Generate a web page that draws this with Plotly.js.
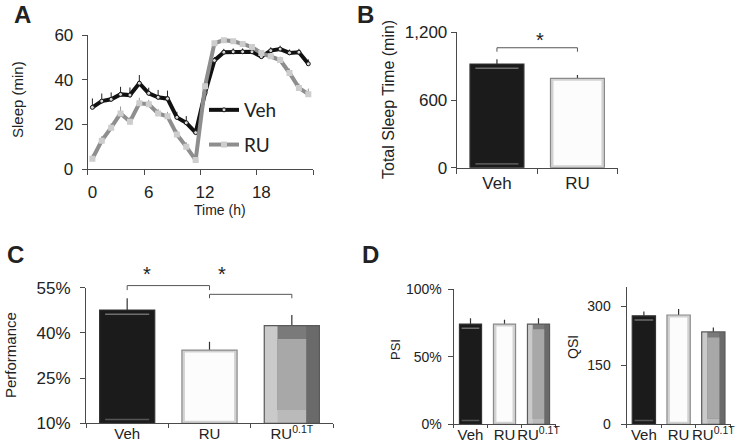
<!DOCTYPE html>
<html><head><meta charset="utf-8">
<script src="https://cdn.plot.ly/plotly-3.0.1.min.js"></script>
<style>html,body{margin:0;padding:0;background:#fff}#chart{width:747px;height:444px}</style>
</head><body><div id="chart"></div>
<script>
// ---------- Panel A: sleep per hour ----------
const hours = [0,1,2,3,4,5,6,7,8,9,10,11,12,13,14,15,16,17,18,19,20,21,22,23];
const hourTicks = [0,6,12,18];
const vehSleep = [27.6,30.4,31.2,33.4,33.1,38.4,33.9,32.1,31.5,23.1,20.7,16.3,34,48.6,52.3,52.5,52.5,52.5,50.3,53.0,53.7,52.0,52.3,47.1];
const vehSleepErr = [4.0,3.4,3.1,3.4,3.4,3.7,2.5,3.3,3.6,2.5,3.0,2.5,2,1.5,1.5,1.5,1.5,1.5,1.5,1.5,1.5,1.5,1.5,2];
const ruSleep = [4.6,12.7,18.5,24.9,21.2,29.4,29.0,24.9,23.6,15.5,10.0,4.0,37.1,56.3,57.7,57.2,56.0,54.6,51.9,50.5,48.8,43.0,36.3,33.5];
const ruSleepErr = [2,2,2,3.1,2,2.5,2,2,2,2,2,2,2,1,1,1,1,1,1,1,1.5,2,2,2.5];
// ---------- Panel B: total sleep time ----------
const groupsB = ['Veh','RU'];
const totalSleep = [919, 792];
const totalSleepErr = [42, 30];
const ticksB = [0, 600, 1200];
// ---------- Panel C: performance ----------
const groupsC = ['Veh','RU','RU<sup>0.1T</sup>'];
const performance = [47.6, 34.3, 42.4];
const performanceErr = [3.9, 2.8, 3.5];
const ticksC = [10, 25, 40, 55];
// ---------- Panel D: PSI / QSI ----------
const groupsD = ['Veh','RU','RU<sup>0.1T</sup>'];
const psi = [74.1, 74.1, 74.1];
const psiErr = [4.2, 3.2, 4.2];
const ticksPSI = [0, 50, 100];
const qsi = [276, 278, 235];
const qsiErr = [11, 15, 11];
const ticksQSI = [0, 150, 300];
const barStyles = ['black','white','gray'];

const FONT = 'Liberation Sans, Arial, sans-serif';
const W = 747, H = 444;
const px = v => v / W;
const py = v => 1 - v / H;
const AX = '#4a4a4a';

function styledBar(xa, ya, cat, val, err, style, o) {
  const u = p => p / o.ppu;   // pixels -> y units
  const c = p => p / o.ppc;   // pixels -> category units
  const common = {type:'bar', xaxis:xa, yaxis:ya, x:[cat], showlegend:false, hoverinfo:'skip'};
  const bw = o.w * o.ppc;
  const errObj = {type:'data', symmetric:false, array:[err], arrayminus:[0], color:'#333', thickness:1.2, width:0};
  const out = [];
  if (style === 'black') {
    out.push({...common, y:[val], width:o.w, marker:{color:'#1b1b1b', line:{width:0}}, error_y:errObj});
    out.push({...common, y:[u(1.6)], base:[val - u(5)], width:o.w - c(bw*0.2), marker:{color:'#6e6e6e', line:{width:0}}});
    out.push({...common, y:[u(1.6)], base:[o.yMin + u(3)], width:o.w - c(bw*0.2), marker:{color:'#555', line:{width:0}}});
  } else if (style === 'white') {
    out.push({...common, y:[val], width:o.w, marker:{color:'#d2d2d2', line:{width:0}}, error_y:errObj});
    out.push({...common, y:[val - o.yMin - u(5)], base:[o.yMin + u(2.5)], width:o.w - c(6), marker:{color:'#fcfcfc', line:{width:0}}});
  } else {
    const bev = 0.24 * bw;
    out.push({...common, y:[val], width:o.w, marker:{color:'#7a7a7a', line:{width:0}}, error_y:errObj});
    out.push({...common, y:[u(bev)], base:[o.yMin], width:o.w, marker:{color:'#bababa', line:{width:0}}});
    out.push({...common, y:[val - o.yMin], base:[o.yMin], width:c(bev), offset:-o.w/2, marker:{color:'#cacaca', line:{width:0}}});
    out.push({...common, y:[val - o.yMin], base:[o.yMin], width:c(bev), offset:o.w/2 - c(bev), marker:{color:'#6a6a6a', line:{width:0}}});
    out.push({...common, y:[val - o.yMin - 2*u(bev)], base:[o.yMin + u(bev)], width:o.w - 2*c(bev), offset:-o.w/2 + c(bev), marker:{color:'#a8a8a8', line:{width:0}}});
  }
  const edge = style === 'black' ? '#333' : (style === 'white' ? '#8a8a8a' : '#5a5a5a');
  out.push({...common, y:[val - o.yMin], base:[o.yMin], width:o.w, marker:{color:'rgba(0,0,0,0)', line:{color:edge, width:1.2}}});
  return out;
}

const traces = [];
traces.push({type:'scatter', mode:'lines+markers', name:'Veh', legendgroup:'veh', x:hours, y:vehSleep, xaxis:'x', yaxis:'y',
  line:{color:'#111', width:4}, marker:{symbol:'circle', size:4, color:'#d8d8d8', line:{color:'#111', width:1}},
  error_y:{type:'data', symmetric:false, array:vehSleepErr, arrayminus:vehSleepErr.map(()=>0), color:'#222', thickness:1, width:0}});
traces.push({type:'scatter', mode:'lines+markers', name:'RU', legendgroup:'ru', x:hours, y:ruSleep, xaxis:'x', yaxis:'y',
  line:{color:'#8e8e8e', width:4}, marker:{symbol:'square', size:6, color:'#cdcdcd'},
  error_y:{type:'data', symmetric:false, array:ruSleepErr, arrayminus:ruSleepErr.map(()=>0), color:'#999', thickness:1, width:0}});

groupsB.forEach((g,i) => traces.push(...styledBar('x2','y2', g, totalSleep[i], totalSleepErr[i], barStyles[i], {w:0.67, yMin:0, ppu:135.4/1200, ppc:80.5})));
groupsC.forEach((g,i) => traces.push(...styledBar('x3','y3', g, performance[i], performanceErr[i], barStyles[i], {w:0.67, yMin:10, ppu:135.6/45, ppc:82.3})));
groupsD.forEach((g,i) => traces.push(...styledBar('x4','y4', g, psi[i], psiErr[i], barStyles[i], {w:0.65, yMin:0, ppu:135.3/100, ppc:34})));
groupsD.forEach((g,i) => traces.push(...styledBar('x5','y5', g, qsi[i], qsiErr[i], barStyles[i], {w:0.67, yMin:0, ppu:137.6/350, ppc:34.7})));

const baseAx = {showline:true, linecolor:AX, linewidth:1, zeroline:false, showgrid:false, ticks:'outside', ticklen:5, tickcolor:AX, tickwidth:1,
  tickfont:{family:FONT, size:17, color:'#222'}, fixedrange:true};
const catAx = (dom, anchor, cats, fs, tl, so) => ({...baseAx, domain:dom, anchor:anchor, type:'category', categoryorder:'array', categoryarray:cats,
  range:[-0.5, cats.length - 0.5], tickson:'boundaries', ticklen:tl, tickangle:0, automargin:false, ticklabelstandoff:so,
  tickfont:{family:FONT, size:fs, color:'#222'}});

// brackets: x in category index, y in the y-axis domain fraction (computed from data values)
const bracket = (xr, yr, a, b, yTop, yLow, yRange) => {
  const d = v => (v - yRange[0]) / (yRange[1] - yRange[0]);
  const L = (x0, y0, x1, y1) => ({type:'line', xref:xr, yref:yr + ' domain', x0, y0:d(y0), x1, y1:d(y1), line:{color:'#555', width:1}});
  return [L(a, yLow, a, yTop), L(a, yTop, b, yTop), L(b, yTop, b, yLow)];
};

const ann = (x, y, text, size, extra) => Object.assign({xref:'paper', yref:'paper', x:px(x), y:py(y), text, showarrow:false,
  xanchor:'center', yanchor:'middle', font:{family:FONT, size, color:'#222'}}, extra || {});

const pct = v => v + '%';

const layout = {
  width:W, height:H, margin:{l:0, r:0, t:0, b:0}, paper_bgcolor:'#fff', plot_bgcolor:'rgba(0,0,0,0)',
  barmode:'overlay', showlegend:true,
  legend:{x:px(204), y:py(91), xanchor:'left', yanchor:'top', bgcolor:'rgba(0,0,0,0)', font:{family:'Lato, Liberation Sans', size:19, color:'#222'},
    tracegroupgap:7, traceorder:'grouped', itemwidth:30},
  xaxis:{...baseAx, domain:[px(87.7), px(313)], anchor:'y', range:[-0.5, 23.5], tickmode:'array', tickvals:hourTicks, ticks:'',
    ticklabelstandoff:8, minor:{ticks:'outside', tickmode:'array', tickvals:hourTicks.map(h => h - 0.5).concat([23.5]), ticklen:5, tickcolor:AX, tickwidth:1}},
  yaxis:{...baseAx, domain:[py(169), py(35)], anchor:'x', range:[0, 60], tickmode:'array', tickvals:[0,20,40,60], ticklabelstandoff:5},
  xaxis2:catAx([px(456.7), px(617.7)], 'y2', groupsB, 17, 5, 0),
  yaxis2:{...baseAx, domain:[py(167.7), py(32.3)], anchor:'x2', range:[0,1200], tickmode:'array', tickvals:ticksB, tickformat:','},
  xaxis3:catAx([px(86), px(333)], 'y3', groupsC, 15, 4, -3),
  yaxis3:{...baseAx, domain:[py(423.3), py(287.7)], anchor:'x3', range:[10,55], tickmode:'array', tickvals:ticksC, ticktext:ticksC.map(pct), ticklabelstandoff:6},
  xaxis4:catAx([px(453.5), px(555.5)], 'y4', groupsD, 15, 3, -3),
  yaxis4:{...baseAx, domain:[py(424.3), py(289)], anchor:'x4', range:[0,100], tickmode:'array', tickvals:ticksPSI, ticktext:ticksPSI.map(pct),
    tickfont:{family:FONT, size:14, color:'#222'}, ticklabelstandoff:3},
  xaxis5:catAx([px(626.5), px(730.7)], 'y5', groupsD, 15, 3, -3),
  yaxis5:{...baseAx, domain:[py(424.3), py(286.7)], anchor:'x5', range:[0,350], tickmode:'array', tickvals:ticksQSI,
    tickfont:{family:FONT, size:14, color:'#222'}, ticklabelstandoff:7},
  shapes:[
    ...bracket('x2','y2', 0, 1, 1063, 1028, [0,1200]),
    ...bracket('x3','y3', 0, 1, 55.7, 54.2, [10,55]),
    ...bracket('x3','y3', 1, 2, 52.8, 51.5, [10,55])
  ],
  annotations:[
    ann(22, 0, '<b>A</b>', 24, {yanchor:'top', borderpad:0}), ann(365, 0, '<b>B</b>', 24, {yanchor:'top', borderpad:0}),
    ann(15, 254, '<b>C</b>', 24), ann(370, 254, '<b>D</b>', 24),
    ann(17, 100, 'Sleep (min)', 15, {textangle:-90}),
    ann(220, 210, 'Time (h)', 14),
    ann(388, 100, 'Total Sleep Time (min)', 16, {textangle:-90}),
    ann(10, 355, 'Performance', 15, {textangle:-90}),
    ann(395, 350, 'PSI', 13, {textangle:-90}),
    ann(573, 347, 'QSI', 14, {textangle:-90}),
    ann(540, 40, '*', 20), ann(146.7, 274, '*', 20), ann(221.7, 274, '*', 20)
  ]
};

Plotly.newPlot('chart', traces, layout, {staticPlot:true, displayModeBar:false});
</script></body></html>
